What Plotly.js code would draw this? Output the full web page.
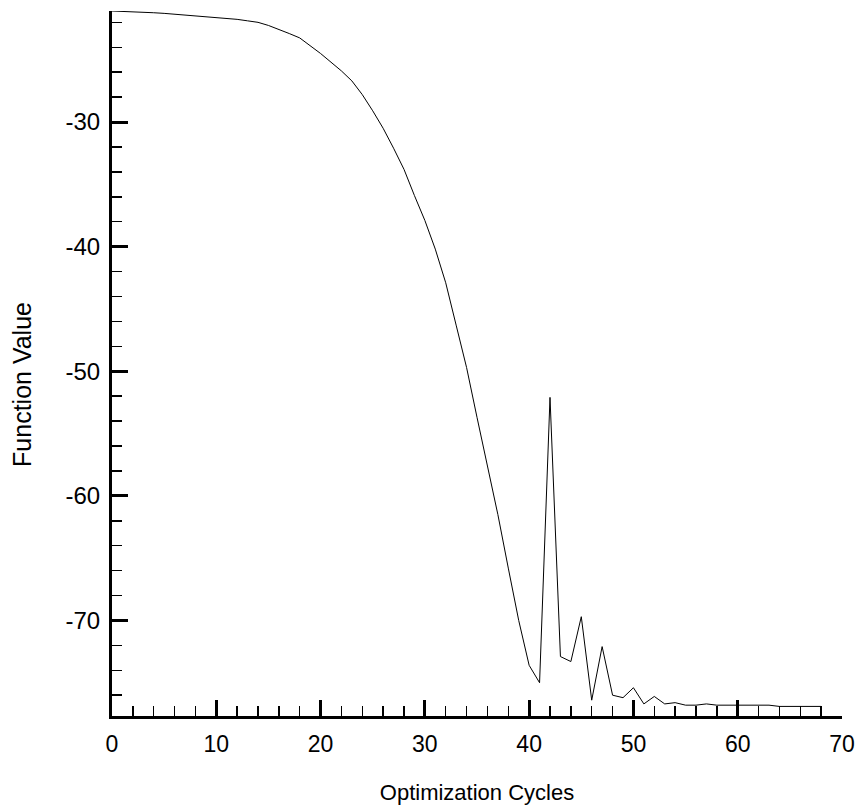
<!DOCTYPE html>
<html>
<head>
<meta charset="utf-8">
<script src="https://cdn.plot.ly/plotly-3.0.1.min.js"></script>
<style>
html,body{margin:0;padding:0;background:#fff;}
#chart{width:865px;height:808px;}
</style>
</head>
<body>
<div id="chart"></div>
<script>
var cycles = [0,1,2,3,4,5,6,7,8,9,10,11,12,13,14,15,16,17,18,19,20,21,22,23,24,25,26,27,28,29,30,31,32,33,34,35,36,37,38,39,40,41,42,43,44,45,46,47,48,49,50,51,52,53,54,55,56,57,58,59,60,61,62,63,64,65,66,67,68];
var functionValue = [-21.09,-21.11,-21.14,-21.18,-21.23,-21.28,-21.35,-21.42,-21.48,-21.53,-21.58,-21.66,-21.76,-21.88,-22.0,-22.25,-22.55,-22.9,-23.25,-23.85,-24.5,-25.2,-25.9,-26.7,-27.8,-29.1,-30.5,-32.1,-33.8,-35.9,-37.9,-40.2,-42.9,-46.3,-49.7,-53.7,-57.7,-61.5,-65.8,-70.0,-73.6,-75.0,-52.1,-72.9,-73.3,-69.7,-76.4,-72.1,-76.0,-76.2,-75.4,-76.7,-76.1,-76.7,-76.6,-76.8,-76.8,-76.7,-76.8,-76.8,-76.8,-76.8,-76.8,-76.8,-76.9,-76.9,-76.9,-76.9,-76.9];
var xTickVals = [0,10,20,30,40,50,60,70];
var xTickText = ['0','10','20','30','40','50','60','70'];
var yTickVals = [-30,-40,-50,-60,-70];
var yTickText = ['-30','-40','-50','-60','-70'];
var xTitle = 'Optimization Cycles';
var yTitle = 'Function Value';

var font = "Liberation Sans, Arial, sans-serif";
var data = [{
  x: cycles, y: functionValue, type: 'scatter', mode: 'lines',
  line: {color: '#000', width: 1}, hoverinfo: 'none'
}];
var layout = {
  width: 865, height: 808,
  margin: {l: 112, r: 23, t: 11, b: 92},
  paper_bgcolor: '#fff', plot_bgcolor: '#fff',
  showlegend: false,
  font: {family: font, color: '#000'},
  xaxis: {
    range: [0, 70], tickmode: 'array', tickvals: xTickVals, ticktext: xTickText,
    ticks: 'inside', ticklen: 16, tickwidth: 3, tickcolor: '#000',
    minor: {dtick: 2, ticks: 'inside', ticklen: 10, tickwidth: 1.5, tickcolor: '#000', showgrid: false},
    showline: true, linewidth: 3, linecolor: '#000', showgrid: false, zeroline: false,
    tickfont: {size: 23, family: font, color: '#000'},
    ticklabelstandoff: 5,
    title: {text: xTitle, font: {size: 22, family: font, color: '#000'}, standoff: 30}
  },
  yaxis: {
    range: [-77.67, -21.09], tickmode: 'array', tickvals: yTickVals, ticktext: yTickText,
    ticks: 'inside', ticklen: 16, tickwidth: 3, tickcolor: '#000',
    minor: {dtick: 2, tick0: 0, ticks: 'inside', ticklen: 10, tickwidth: 1.5, tickcolor: '#000', showgrid: false},
    showline: true, linewidth: 3, linecolor: '#000', showgrid: false, zeroline: false,
    tickfont: {size: 24, family: font, color: '#000'},
    ticklabelstandoff: 4
  },
  annotations: [{
    text: yTitle, textangle: -90, showarrow: false,
    xref: 'paper', yref: 'paper', x: -0.1233, y: 0.471,
    xanchor: 'center', yanchor: 'middle',
    font: {size: 25, family: font, color: '#000'}
  }]
};
Plotly.newPlot('chart', data, layout, {displayModeBar: false, staticPlot: true});
</script>
</body>
</html>
